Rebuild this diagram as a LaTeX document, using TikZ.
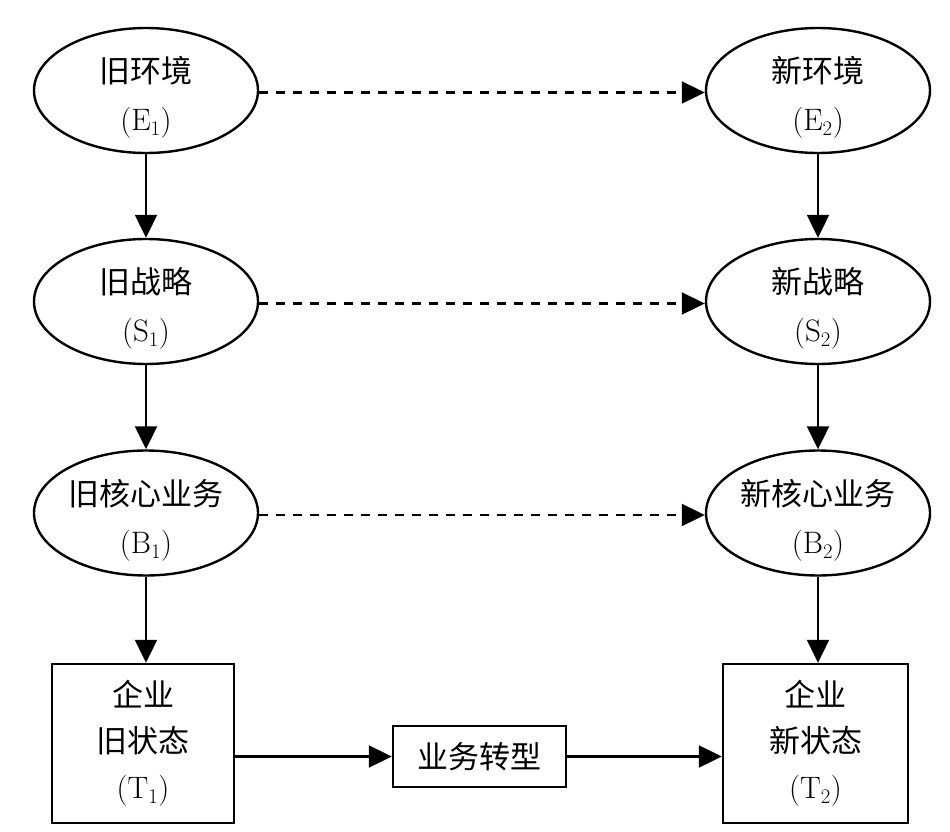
\documentclass[tikz,border=0pt]{standalone}
\usepackage{fontspec}
\newfontfamily\cjk{Noto Sans CJK SC}
\usetikzlibrary{shapes.geometric,arrows.meta}
\begin{document}
\begin{tikzpicture}[x=1pt,y=-1pt,
  ell/.style={draw,line width=2.4pt,ellipse,minimum width=224pt,minimum height=125pt,inner sep=0pt},
  lbl/.style={align=center,inner sep=0pt,font=\cjk\fontsize{31}{48}\selectfont},
  bigbox/.style={draw,line width=2.4pt,rectangle,inner sep=0pt,align=center,font=\cjk\fontsize{31}{46}\selectfont},
  arr/.style={line width=2.1pt,-{Triangle[length=23pt,width=22pt]}},
  darr/.style={arr,dash pattern=on 9pt off 8pt}]
\useasboundingbox (0,0) rectangle (950,832);
% left ellipses
\node[ell] (e1) at (146,90.5) {};
\node[ell] (s1) at (146,301.5) {};
\node[ell] (b1) at (146,513) {};
% right ellipses
\node[ell] (e2) at (818,90.5) {};
\node[ell] (s2) at (818,301.5) {};
\node[ell] (b2) at (818,513) {};
% texts
\node[lbl] (e1t) at ([yshift=-7pt]e1.center) {旧环境\\{\rmfamily(E$_1$)}};
\node[lbl] (s1t) at ([yshift=-7pt]s1.center) {旧战略\\{\rmfamily(S$_1$)}};
\node[lbl] (b1t) at ([yshift=-7pt]b1.center) {旧核心业务\\{\rmfamily(B$_1$)}};
\node[lbl] (e2t) at ([yshift=-7pt]e2.center) {新环境\\{\rmfamily(E$_2$)}};
\node[lbl] (s2t) at ([yshift=-7pt]s2.center) {新战略\\{\rmfamily(S$_2$)}};
\node[lbl] (b2t) at ([yshift=-7pt]b2.center) {新核心业务\\{\rmfamily(B$_2$)}};
% boxes
\node[bigbox,minimum width=182pt,minimum height=159pt] (t1) at (143,743.5) {企业\\旧状态\\{\rmfamily(T$_1$)}};
\node[bigbox,minimum width=185pt,minimum height=159pt] (t2) at (815.5,743.5) {企业\\新状态\\{\rmfamily(T$_2$)}};
\node[bigbox,minimum width=173pt,minimum height=61pt] (mid) at (479.5,756.5) {业务转型};
% vertical arrows
\draw[arr] (e1.south) -- (s1.north);
\draw[arr] (s1.south) -- (b1.north);
\draw[arr] (b1.south) -- (b1.south |- t1.north);
\draw[arr] (e2.south) -- (s2.north);
\draw[arr] (s2.south) -- (b2.north);
\draw[arr] (b2.south) -- (b2.south |- t2.north);
% dashed arrows
\draw[darr] ([yshift=-2pt]e1.east) -- ([yshift=-2pt]e2.west);
\draw[darr] ([yshift=-2pt]s1.east) -- ([yshift=-2pt]s2.west);
\draw[darr] ([yshift=-2pt]b1.east) -- ([yshift=-2pt]b2.west);
% bottom arrows
\draw[arr] (mid.west -| t1.east) -- (mid.west);
\draw[arr] (mid.east) -- (mid.east -| t2.west);
\end{tikzpicture}
\end{document}
